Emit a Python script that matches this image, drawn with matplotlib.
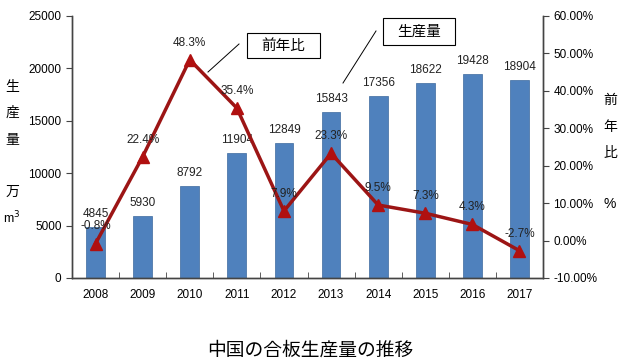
import matplotlib.pyplot as plt
from matplotlib.patches import Rectangle
from matplotlib.ticker import FuncFormatter

years = ["2008", "2009", "2010", "2011", "2012", "2013", "2014", "2015", "2016", "2017"]
output = [4845, 5930, 8792, 11904, 12849, 15843, 17356, 18622, 19428, 18904]
growth = [-0.8, 22.4, 48.3, 35.4, 7.9, 23.3, 9.5, 7.3, 4.3, -2.7]

NUM = "Liberation Sans"
JP = ["Noto Sans CJK JP", "DejaVu Sans"]
BAR = "#4f81bd"
RED = "#9c1515"

W, H = 619, 361


def fx(px):
    return px / W


def fy(py):
    return 1 - py / H


fig = plt.figure(figsize=(6.19, 3.61), dpi=100)
ax = fig.add_axes([fx(72), fy(278), 471 / W, 262 / H])
ax2 = ax.twinx()

x = list(range(len(years)))
ax.bar(x, output, width=0.4, color=BAR, edgecolor="#3d6a9e", linewidth=0.5, zorder=2)
for xi, v in zip(x, output):
    ax.annotate(str(v), (xi, v), xytext=(0, 5), textcoords="offset points",
                ha="center", va="bottom", fontsize=8.5, family=NUM, color="#222222")

ax.set_xlim(-0.5, len(years) - 0.5)
ax.set_ylim(0, 25000)
ax.set_yticks(range(0, 25001, 5000))
ax.set_xticks(x)
ax.set_xticklabels(years, family=NUM, fontsize=8.5)
ax.set_xticks([i + 0.5 for i in x[:-1]], minor=True)
ax.tick_params(axis="x", which="major", length=0, pad=8)
ax.tick_params(axis="x", which="minor", direction="in", length=4, color="#444444")
ax.tick_params(axis="y", direction="out", length=4, color="#444444", labelsize=8.5)
for lb in ax.get_yticklabels():
    lb.set_family(NUM)

ax2.plot(x, growth, color=RED, linewidth=2.5, marker="^", markersize=8,
         markerfacecolor="#b01010", markeredgecolor="#b01010", zorder=3)
for xi, v in zip(x, growth):
    ax2.annotate(f"{v}%", (xi, v), xytext=(0, 8), textcoords="offset points",
                 ha="center", va="bottom", fontsize=8.5, family=NUM, color="#222222")
ax2.set_ylim(-10, 60)
ax2.set_yticks(range(-10, 61, 10))
ax2.yaxis.set_major_formatter(FuncFormatter(lambda v, p: f"{v:.2f}%"))
ax2.tick_params(axis="y", direction="out", length=4, color="#444444", labelsize=8.5)
for lb in ax2.get_yticklabels():
    lb.set_family(NUM)

for a in (ax, ax2):
    a.spines["top"].set_visible(False)
    for s in ("left", "right", "bottom"):
        a.spines[s].set_color("#444444")
        a.spines[s].set_linewidth(1)


# callout boxes
def callout(x0, y0, x1, y1, text, line):
    fig.add_artist(Rectangle((fx(x0), fy(y1)), (x1 - x0) / W, (y1 - y0) / H,
                             transform=fig.transFigure, facecolor="white",
                             edgecolor="black", linewidth=0.8))
    fig.text(fx((x0 + x1) / 2), fy((y0 + y1) / 2), text, ha="center", va="center",
             fontsize=10.5, family=JP)
    fig.add_artist(plt.Line2D([fx(line[0]), fx(line[2])], [fy(line[1]), fy(line[3])],
                              color="black", linewidth=0.7))


callout(247, 33, 320, 58, "前年比", (239, 44, 208, 72))
callout(383, 18, 455, 45, "生産量", (376, 31, 343, 83))

# vertical axis titles
for ch, yy in zip(["生", "産", "量", "万"], [87, 113, 140, 192]):
    fig.text(fx(12), fy(yy), ch, ha="center", va="center", fontsize=10, family=JP)
fig.text(fx(12), fy(218), "m$^3$", ha="center", va="center", fontsize=9, family=NUM)
for ch, yy in zip(["前", "年", "比"], [100, 127, 153]):
    fig.text(fx(610), fy(yy), ch, ha="center", va="center", fontsize=10, family=JP)
fig.text(fx(610), fy(204), "%", ha="center", va="center", fontsize=10, family=NUM)

fig.text(fx(310), fy(350), "中国の合板生産量の推移", ha="center", va="center",
         fontsize=13.5, family=JP)

fig.savefig("out.png", dpi=100)
